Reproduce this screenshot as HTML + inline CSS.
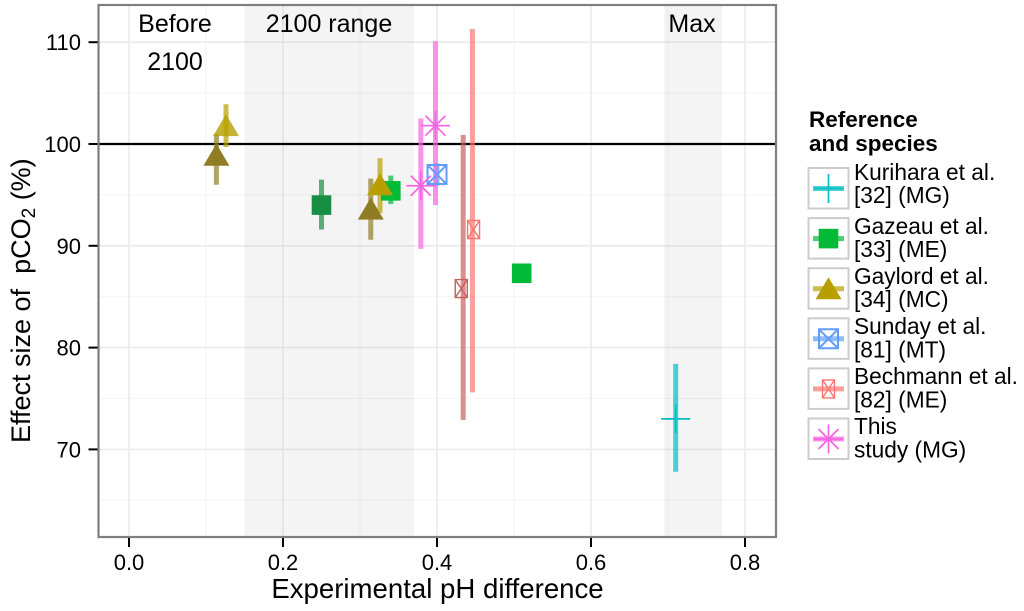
<!DOCTYPE html>
<html lang="en">
<head>
<meta charset="utf-8">
<title>Effect size of pCO2 versus experimental pH difference</title>
<style>
html,body{margin:0;padding:0;background:#fff;width:1024px;height:611px;overflow:hidden}
svg{display:block;font-family:"Liberation Sans",Arial,sans-serif;filter:blur(0.3px)}
</style>
</head>
<body>
<svg id="chart" width="1024" height="611" viewBox="0 0 1024 611" xmlns="http://www.w3.org/2000/svg">
  <rect x="0" y="0" width="1024" height="611" fill="#fff"/>
  <g id="grid"></g>
  <g id="bands"></g>
  <g id="refline"></g>
  <g id="marks"></g>
  <g id="axes"></g>
  <g id="band-labels" font-size="25" fill="#000" text-anchor="middle">
    <text x="175" y="32">Before</text>
    <text x="175" y="70">2100</text>
    <text x="329" y="32">2100 range</text>
    <text x="692" y="32">Max</text>
  </g>
  <text x="437.5" y="598" font-size="27.6" text-anchor="middle" fill="#000">Experimental pH difference</text>
  <text transform="translate(30,443) rotate(-90)" font-size="27" fill="#000" xml:space="preserve">Effect size of  pCO<tspan font-size="19" dy="5">2</tspan><tspan dy="-5"> (%)</tspan></text>
  <g id="legend">
    <text x="809" y="127" font-size="22.5" font-weight="bold" fill="#000">Reference</text>
    <text x="809" y="151" font-size="22.5" font-weight="bold" fill="#000">and species</text>
  </g>
</svg>
<script>
// Chart data
const xMajorTicks = [0, 0.2, 0.4, 0.6, 0.8];
const xMinorTicks = [0.1, 0.3, 0.5, 0.7];
const yMajorTicks = [70, 80, 90, 100, 110];
const yMinorTicks = [65, 75, 85, 95, 105];
const bandStart = [0.15, 0.695];
const bandEnd = [0.37, 0.77];
const referenceValue = 100;

const seriesNames = ['kurihara', 'gazeau', 'gaylord', 'sunday', 'bechmann', 'this-study'];
const legendLine1 = ['Kurihara et al.', 'Gazeau et al.', 'Gaylord et al.', 'Sunday et al.', 'Bechmann et al.', 'This'];
const legendLine2 = ['[32] (MG)', '[33] (ME)', '[34] (MC)', '[81] (MT)', '[82] (ME)', 'study (MG)'];

const pointSeries = ['kurihara', 'gazeau', 'gazeau', 'gazeau', 'gaylord', 'gaylord', 'gaylord', 'gaylord', 'sunday', 'bechmann', 'bechmann', 'this-study', 'this-study'];
const pointDark = [false, true, false, false, true, false, true, false, false, false, true, false, false];
const pointFaded = [false, false, false, false, false, true, false, false, false, false, false, false, false];
const pointPh = [0.71, 0.25, 0.34, 0.51, 0.1135, 0.126, 0.314, 0.326, 0.4, 0.4475, 0.4315, 0.379, 0.398];
const pointBarPh = [0.71, 0.25, 0.34, 0.51, 0.1135, 0.126, 0.314, 0.326, 0.4, 0.446, 0.434, 0.379, 0.398];
const pointEffect = [73, 94, 95.4, 87.3, 98.9, 101.8, 93.6, 96, 97, 91.6, 85.8, 95.9, 101.8];
const pointLow = [67.8, 91.6, 94.1, 87.0, 96, 99.7, 90.6, 93.2, 95.9, 75.6, 72.9, 89.7, 94];
const pointHigh = [78.4, 96.5, 96.9, 87.6, 101, 103.9, 96.6, 98.6, 98.1, 111.3, 100.9, 102.5, 110.1];

// Axis functions
const xScale = v => 129 + 770 * v;
const yScale = v => 144 + (100 - v) * 10.18;

// Appearance
const plot = {left: 98.5, right: 776, top: 5, bottom: 537};
const palette = {
  'kurihara': '#00BFC4', 'gazeau': '#00BA38', 'gaylord': '#B79F00',
  'sunday': '#619CFF', 'bechmann': '#F8766D', 'this-study': '#F564E3'
};
const darkPalette = {'gazeau': '#178E41', 'gaylord': '#917C26', 'bechmann': '#C4625C'};
const NS = 'http://www.w3.org/2000/svg';

function make(parent, tag, attrs) {
  const el = document.createElementNS(NS, tag);
  for (const k in attrs) el.setAttribute(k, attrs[k]);
  parent.appendChild(el);
  return el;
}

function drawMarker(parent, series, cx, cy, color, opacity) {
  const op = opacity === undefined ? 1 : opacity;
  if (series === 'kurihara') {
    const p = make(parent, 'path', {d: `M${cx-14.5} ${cy}H${cx+14.5}M${cx} ${cy-14.5}V${cy+14.5}`, stroke: color, 'stroke-width': 1.7, fill: 'none'});
    
    
  } else if (series === 'gazeau') {
    const p = make(parent, 'rect', {x: cx-9.8, y: cy-9.8, width: 19.6, height: 19.6, fill: color});
    
    
  } else if (series === 'gaylord') {
    const p = make(parent, 'path', {d: `M${cx} ${cy-11.5}L${cx+13} ${cy+10.5}H${cx-13}Z`, fill: color, 'fill-opacity': op});
    
    
  } else if (series === 'sunday') {
    const p = make(parent, 'path', {d: `M${cx-9.5} ${cy-9.5}H${cx+9.5}V${cy+9.5}H${cx-9.5}ZL${cx+9.5} ${cy+9.5}M${cx+9.5} ${cy-9.5}L${cx-9.5} ${cy+9.5}`, stroke: color, 'stroke-width': 2, fill: 'none'});
    
    
  } else if (series === 'bechmann') {
    const p = make(parent, 'path', {d: `M${cx-6} ${cy-9}H${cx+6}V${cy+9}H${cx-6}ZL${cx+6} ${cy+9}M${cx+6} ${cy-9}L${cx-6} ${cy+9}`, stroke: color, 'stroke-width': 1.4, fill: 'none'});
    
    
  } else {
    const d = 10;
    const p = make(parent, 'path', {d: `M${cx-14.5} ${cy}H${cx+14.5}M${cx} ${cy-14.5}V${cy+14.5}M${cx-d} ${cy-d}L${cx+d} ${cy+d}M${cx+d} ${cy-d}L${cx-d} ${cy+d}`, stroke: color, 'stroke-width': 1.7, fill: 'none'});
    
    
  }
}

// Grid
const gridG = document.getElementById('grid');
xMinorTicks.forEach(v => {
  const l = make(gridG, 'line', {x1: xScale(v), x2: xScale(v), y1: plot.top, y2: plot.bottom, stroke: '#f5f5f5', 'stroke-width': 1.2});
  
  
});
yMinorTicks.forEach(v => {
  const l = make(gridG, 'line', {x1: plot.left, x2: plot.right, y1: yScale(v), y2: yScale(v), stroke: '#f5f5f5', 'stroke-width': 1.2});
  
  
});
xMajorTicks.forEach(v => {
  const l = make(gridG, 'line', {x1: xScale(v), x2: xScale(v), y1: plot.top, y2: plot.bottom, stroke: '#ebebeb', 'stroke-width': 1.6});
  
  
});
yMajorTicks.forEach(v => {
  const l = make(gridG, 'line', {x1: plot.left, x2: plot.right, y1: yScale(v), y2: yScale(v), stroke: '#ebebeb', 'stroke-width': 1.6});
  
  
});

// Shaded bands
const bandsG = document.getElementById('bands');
bandStart.forEach((s, i) => {
  const r = make(bandsG, 'rect', {x: xScale(s), y: plot.top, width: xScale(bandEnd[i]) - xScale(s), height: plot.bottom - plot.top, fill: '#808080', 'fill-opacity': 0.09});
  
  
});

// Reference line
const refLine = make(document.getElementById('refline'), 'line', {x1: plot.left, x2: plot.right, y1: yScale(referenceValue), y2: yScale(referenceValue), stroke: '#000', 'stroke-width': 2.2});



// Error bars then markers
const marksG = document.getElementById('marks');
const pointIndexes = pointPh.map((_, i) => i);
pointIndexes.forEach(i => {
  const color = pointDark[i] ? darkPalette[pointSeries[i]] : palette[pointSeries[i]];
  const bx = xScale(pointBarPh[i]);
  const bar = make(marksG, 'line', {x1: bx, x2: bx, y1: yScale(pointHigh[i]), y2: yScale(pointLow[i]), stroke: color, 'stroke-width': 5, 'stroke-opacity': 0.7});
  
  
});
pointIndexes.forEach(i => {
  const color = pointDark[i] ? darkPalette[pointSeries[i]] : palette[pointSeries[i]];
  drawMarker(marksG, pointSeries[i], xScale(pointPh[i]), yScale(pointEffect[i]), color, pointFaded[i] ? 0.8 : 1);
});

// Axes
const axesG = document.getElementById('axes');
const frame = make(axesG, 'rect', {x: plot.left, y: plot.top, width: plot.right - plot.left, height: plot.bottom - plot.top, fill: 'none', stroke: '#7f7f7f', 'stroke-width': 2.2});


xMajorTicks.forEach(v => {
  const t = make(axesG, 'line', {x1: xScale(v), x2: xScale(v), y1: plot.bottom + 1, y2: plot.bottom + 10, stroke: '#000', 'stroke-width': 2});
  
  
  const lab = make(axesG, 'text', {x: xScale(v), y: 570, 'font-size': 22, 'text-anchor': 'middle', fill: '#000'});
  
  
  lab.textContent = v.toFixed(1);
});
yMajorTicks.forEach(v => {
  const t = make(axesG, 'line', {x1: plot.left - 1, x2: plot.left - 10, y1: yScale(v), y2: yScale(v), stroke: '#000', 'stroke-width': 2});
  
  
  const lab = make(axesG, 'text', {x: 81, y: yScale(v) + 8, 'font-size': 22, 'text-anchor': 'end', fill: '#000'});
  
  
  lab.textContent = String(v);
});

// Legend
const legendG = document.getElementById('legend');
seriesNames.forEach((s, i) => {
  const top = 168 + 50.1 * i;
  const g = make(legendG, 'g', {});
  
  
  const key = make(g, 'rect', {x: 808.5, y: top, width: 40, height: 40.5, fill: '#fff', stroke: '#cccccc', 'stroke-width': 2});
  
  
  const cx = 828.5, cy = top + 20.5;
  const bar = make(g, 'line', {x1: 813, x2: 844, y1: cy, y2: cy, stroke: palette[s], 'stroke-width': 5, 'stroke-opacity': 0.7});
  
  
  drawMarker(g, s, cx, cy, palette[s]);
  const firstShift = i === 0 ? 12 : 15.7;
  const secondShift = i === 0 ? 35 : 39;
  const t1 = make(g, 'text', {x: 854, y: top + firstShift, 'font-size': 22.7, fill: '#000'});
  
  
  t1.textContent = legendLine1[i];
  const t2 = make(g, 'text', {x: 854, y: top + secondShift, 'font-size': 22.7, fill: '#000'});
  
  
  t2.textContent = legendLine2[i];
});
</script>
</body>
</html>
